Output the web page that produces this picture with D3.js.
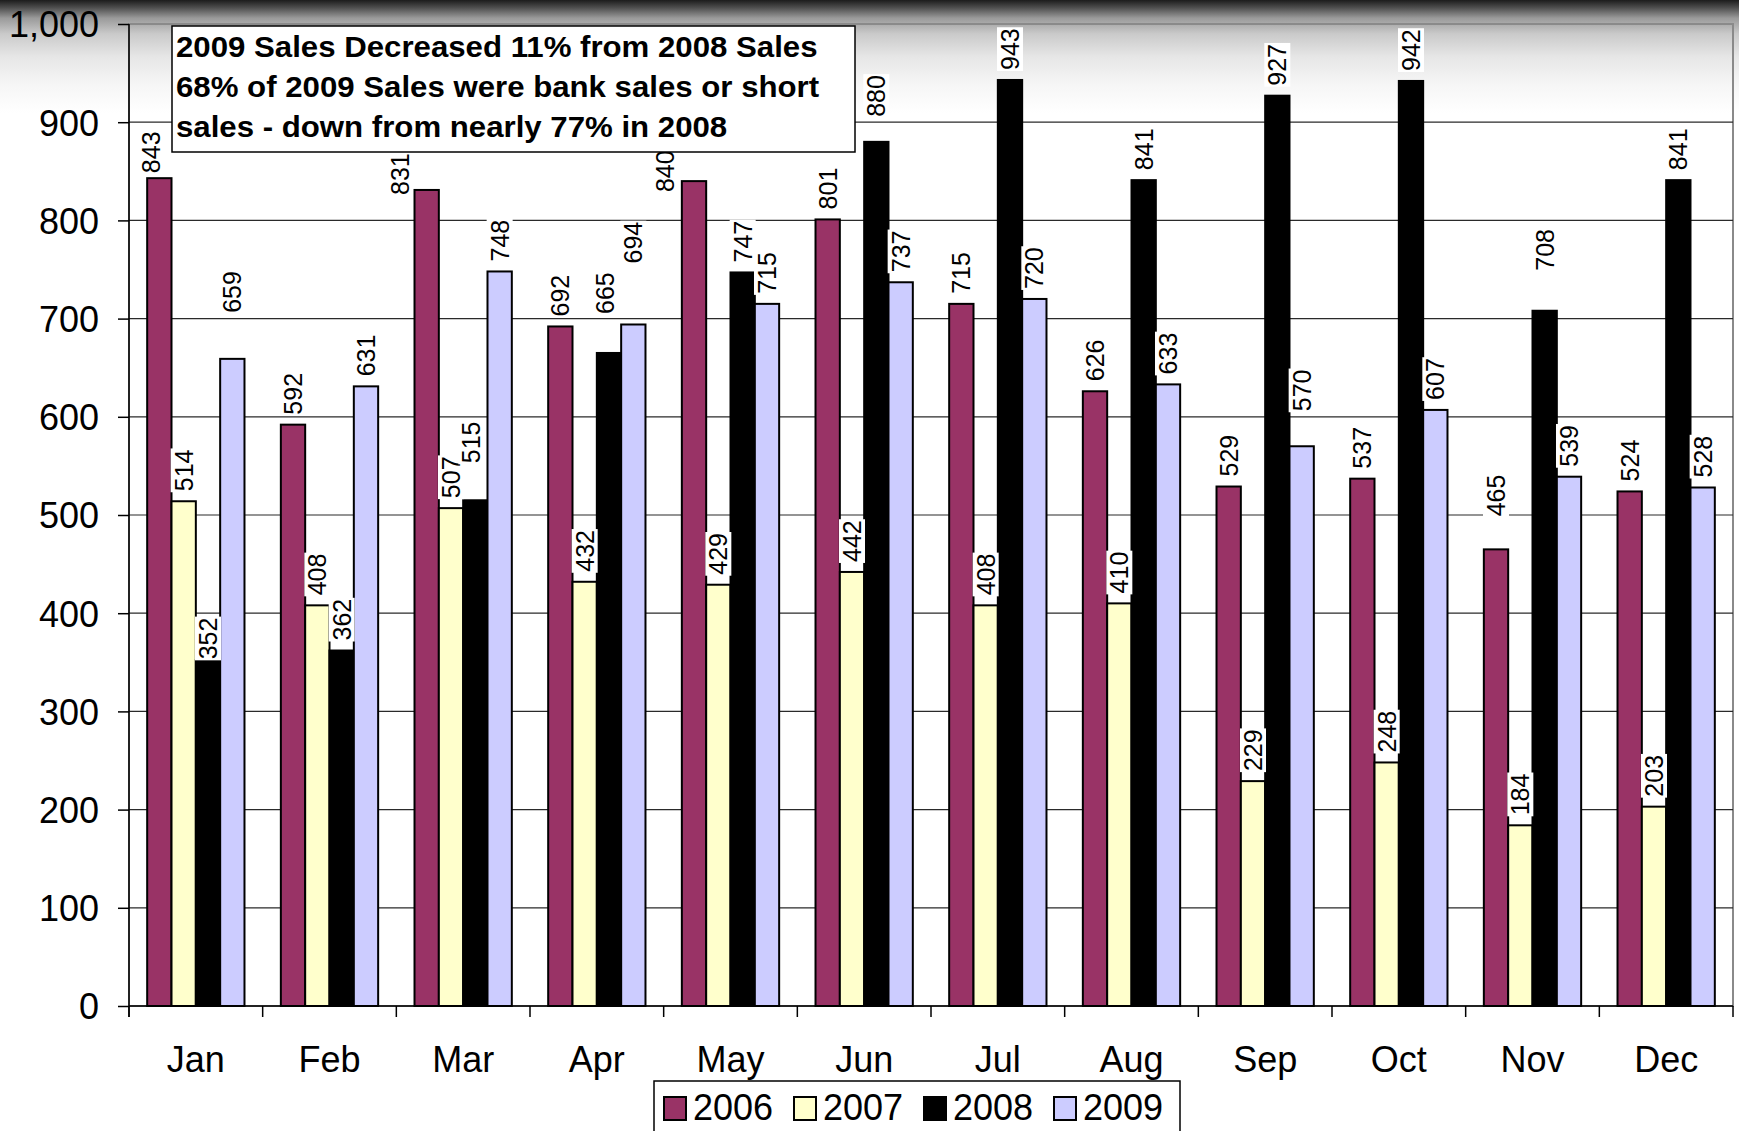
<!DOCTYPE html>
<html>
<head>
<meta charset="utf-8">
<script src="https://cdn.jsdelivr.net/npm/d3@7"></script>
<style>
  html, body { margin: 0; padding: 0; background: #fff; }
  svg { display: block; font-family: "Liberation Sans", Arial, sans-serif; }
</style>
</head>
<body>
<svg id="chart" width="1739" height="1131"></svg>
<script>
// ---------- data ----------
const months = ["Jan","Feb","Mar","Apr","May","Jun","Jul","Aug","Sep","Oct","Nov","Dec"];
const seriesNames = ["2006","2007","2008","2009"];
const sales2006 = [843,592,831,692,840,801,715,626,529,537,465,524];
const sales2007 = [514,408,507,432,429,442,408,410,229,248,184,203];
const sales2008 = [352,362,515,665,747,880,943,841,927,942,708,841];
const sales2009 = [659,631,748,694,715,737,720,633,570,607,539,528];
const yTicks = [0,100,200,300,400,500,600,700,800,900,1000];
const noteLines = [
  "2009 Sales Decreased 11% from 2008 Sales",
  "68% of 2009 Sales were bank sales or short",
  "sales - down from nearly 77% in 2008"
];
// manual label placement tweaks (like moved Excel labels): [month, series, dx px, extra lift px]
const labelNudges = [
  ["Jan","2006",-8,-5], ["Jan","2008",0,-9], ["Jan","2009",0,36],
  ["Mar","2006",-27,-15], ["Mar","2008",-4,27],
  ["Apr","2008",-4,29], ["Apr","2009",0,51],
  ["May","2006",-29,-21], ["Jun","2008",0,15],
  ["Sep","2009",0,25], ["Nov","2006",0,23], ["Nov","2008",0,30]
];

const seriesValues = [sales2006, sales2007, sales2008, sales2009];
const colors = ["#993366","#FFFFCC","#000000","#CCCCFF"];

// ---------- layout ----------
const W = 1739, H = 1131;
const plot = { left: 129, right: 1733, top: 24, bottom: 1006 };

const svg = d3.select("#chart");
const defs = svg.append("defs");
const grad = defs.append("linearGradient").attr("id","bg").attr("x1",0).attr("y1",0).attr("x2",0).attr("y2",1);
[[0,"#1c1c1c"],[0.007,"#505050"],[0.016,"#9a9a9a"],[0.03,"#cacaca"],[0.05,"#e6e6e6"],[0.075,"#f6f6f6"],[0.1,"#ffffff"],[1,"#ffffff"]]
  .forEach(([o,c]) => grad.append("stop").attr("offset",o).attr("stop-color",c));
svg.append("rect").attr("width",W).attr("height",H).attr("fill","url(#bg)");

const x0 = d3.scaleBand().domain(months).range([plot.left, plot.right]).paddingInner(0.272).paddingOuter(0.136);
const x1 = d3.scaleBand().domain(seriesNames).range([0, x0.bandwidth()]);
const y = d3.scaleLinear().domain([0,1000]).range([plot.bottom, plot.top]);

// plot border (top/right)
svg.append("rect")
  .attr("x", plot.left).attr("y", y(1000))
  .attr("width", plot.right - plot.left).attr("height", y(0) - y(1000))
  .attr("fill","none").attr("stroke","#8a8a8a").attr("stroke-width",2);

// gridlines
svg.append("g").selectAll("line").data(yTicks.filter(t => t > 0 && t < 1000)).join("line")
  .attr("x1", plot.left).attr("x2", plot.right)
  .attr("y1", d => y(d)).attr("y2", d => y(d))
  .attr("stroke","#2a2a2a").attr("stroke-width",1.2);

// y axis
const yAxis = d3.axisLeft(y).tickValues(yTicks).tickFormat(d3.format(",")).tickSize(11).tickPadding(19);
const gy = svg.append("g").attr("transform",`translate(${plot.left},0)`).call(yAxis);
gy.select(".domain").attr("stroke","#000").attr("stroke-width",1.5).attr("d",`M0,${y(1000)}V${y(0)+11}`);
gy.selectAll(".tick line").attr("stroke","#000").attr("stroke-width",1.5);
gy.selectAll(".tick text").attr("font-size",36).attr("fill","#000")
  .attr("font-family","'Liberation Sans', Arial, sans-serif").attr("dy","0.36em");

// x axis line and boundary ticks
svg.append("line").attr("x1",plot.left).attr("x2",plot.right).attr("y1",y(0)).attr("y2",y(0))
  .attr("stroke","#000").attr("stroke-width",1.5);
const boundaries = d3.range(months.length + 1).map(i => plot.left + i * x0.step());
svg.append("g").selectAll("line").data(boundaries).join("line")
  .attr("x1", d => d).attr("x2", d => d).attr("y1", y(0)).attr("y2", y(0) + 11)
  .attr("stroke","#000").attr("stroke-width",1.5);

// month labels
svg.append("g").selectAll("text").data(months).join("text")
  .attr("x", d => x0(d) + x0.bandwidth()/2)
  .attr("y", 1072)
  .attr("text-anchor","middle").attr("font-size",36).attr("fill","#000")
  .text(d => d);

// bars
const flat = [];
months.forEach((m, i) => seriesNames.forEach((s, j) => flat.push({ m, s, j, v: seriesValues[j][i] })));

svg.append("g").selectAll("rect").data(flat).join("rect")
  .attr("x", d => x0(d.m) + x1(d.s))
  .attr("y", d => y(d.v))
  .attr("width", x1.bandwidth())
  .attr("height", d => y(0) - y(d.v))
  .attr("fill", d => colors[d.j])
  .attr("stroke","#000").attr("stroke-width",2);

// data labels
const nudgeMap = new Map(labelNudges.map(n => [n[0] + "|" + n[1], n]));
const gap = 10;
const lg = svg.append("g");
flat.forEach(d => {
  const n = nudgeMap.get(d.m + "|" + d.s);
  const dx = n ? n[2] : 0, lift = n ? n[3] : 0;
  const cx = x0(d.m) + x1(d.s) + x1.bandwidth()/2 + dx;
  const by = y(d.v) - gap - lift;
  const g = lg.append("g").attr("transform", `translate(${cx},${by}) rotate(-90)`);
  const bgRect = g.append("rect").attr("fill","#fff");
  const t = g.append("text").attr("x",0).attr("y",0).attr("dy","0.36em")
    .attr("font-size",25).attr("fill","#000").text(d.v);
  const bb = t.node().getBBox();
  bgRect.attr("x", bb.x - 1).attr("y", bb.y + 1).attr("width", bb.width + 2).attr("height", bb.height - 2);
});

// annotation box
const note = svg.append("g");
note.append("rect").attr("x",172).attr("y",26).attr("width",683).attr("height",126)
  .attr("fill","#fff").attr("stroke","#000").attr("stroke-width",1.5);
const noteText = note.append("g").attr("transform","translate(176,0) scale(1.04,1)");
noteText.selectAll("text").data(noteLines).join("text")
  .attr("x",0).attr("y",(d,i) => 57 + i*40)
  .attr("font-size",30).attr("font-weight","bold").attr("fill","#000")
  .text(d => d);

// legend
const legend = svg.append("g");
legend.append("rect").attr("x",654).attr("y",1081).attr("width",526).attr("height",70)
  .attr("fill","#fff").attr("stroke","#000").attr("stroke-width",1.5);
const items = legend.selectAll("g.item").data(seriesNames).join("g").attr("class","item")
  .attr("transform",(d,i) => `translate(${664 + i*130},0)`);
items.append("rect").attr("x",0).attr("y",1097).attr("width",22).attr("height",23)
  .attr("fill",(d,i) => colors[i]).attr("stroke","#000").attr("stroke-width",2);
items.append("text").attr("x",29).attr("y",1120).attr("font-size",36).attr("fill","#000").text(d => d);
</script>
</body>
</html>
